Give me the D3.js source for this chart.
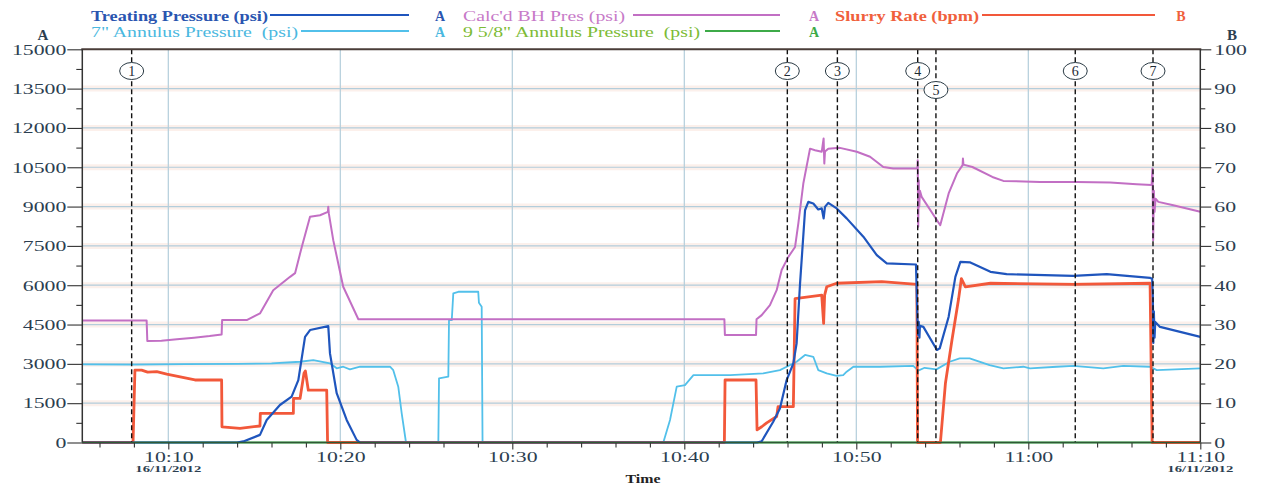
<!DOCTYPE html>
<html>
<head>
<meta charset="utf-8">
<script src="https://cdn.jsdelivr.net/npm/d3@7"></script>
<style>
  body { margin: 0; background: #fff; }
  svg { display: block; }
  text { font-family: "Liberation Serif", "Times New Roman", serif; }
</style>
</head>
<body>
<svg id="chart" width="1267" height="488"></svg>
<script>
// Treatment record, 16/11/2012. Each point is [minutes after 10:00, value].

// Treating Pressure (psi), axis A
const treatingPressure = [
  [5,0],[14,0],[14.36,40],[15.33,290],[15.72,860],[16.49,1430],[17.17,1750],[17.56,2380],
  [17.95,4030],[18.24,4290],[19.3,4440],[19.4,3400],[19.79,1880],[20.37,860],[20.95,100],[21.15,0],
  [44.23,0],[44.5,50],[45.17,790],[45.56,1300],[45.95,2380],[46.34,3020],[46.53,3780],[46.73,6070],
  [47.02,8860],[47.21,9180],[47.5,9120],[47.79,8890],[47.99,8930],[48.1,8550],[48.18,8990],[48.37,9140],
  [48.86,8930],[49.44,8550],[50.41,7850],[51.19,7150],[51.77,6830],[53.47,6790],[53.56,4540],[53.6,4100],
  [53.63,4600],[53.67,4000],[53.7,4450],[53.9,4410],[54.69,3530],[54.85,3590],[55.37,4800],[55.76,6320],
  [56.05,6890],[56.63,6870],[57.8,6510],[58.74,6420],[62.62,6360],[64.56,6420],[67.08,6280],[67.2,6250],
  [67.24,5560],[67.27,3800],[67.3,5000],[67.34,4000],[67.38,4600],[67.66,4410],[70,4030]
];

// Calc'd BH Pres (psi), axis A
const bhPressure = [
  [5,4650],[8.74,4650],[8.78,3870],[9.6,3880],[10.5,3940],[11.5,4000],[12.4,4060],[13.1,4120],
  [13.13,4670],[14.56,4670],[15.33,4925],[16.1,5810],[17.08,6320],[17.37,6460],[17.76,7460],[18.24,8610],
  [18.82,8670],[19.28,8800],[19.3,8990],[19.33,8750],[19.59,7720],[20.17,5940],[21.05,4700],[42.33,4700],
  [42.36,4100],[44.17,4100],[44.2,4700],[44.5,4860],[44.98,5240],[45.37,5810],[45.66,6580],[46.05,7080],
  [46.44,7460],[46.63,8360],[46.92,9880],[47.31,11210],[47.6,11150],[47.99,11090],[48.1,11600],[48.14,10640],
  [48.18,11100],[48.37,11210],[49.05,11240],[50.03,11090],[50.8,10900],[51.57,10510],[52.15,10450],[53.55,10450],
  [53.57,10770],[53.6,8230],[53.63,10000],[53.66,9000],[53.7,9600],[53.8,9370],[54.88,8290],[55.37,9500],
  [55.85,10260],[56.18,10580],[56.2,10830],[56.23,10600],[56.75,10510],[57.91,10130],[58.55,9980],[60.68,9940],
  [62.82,9940],[64.76,9920],[66.3,9850],[67.17,9820],[67.22,10450],[67.26,7720],[67.3,9600],[67.34,8800],
  [67.4,9300],[67.56,9180],[68.43,9050],[70,8800]
];

// Slurry Rate (bpm), axis B
const slurryRate = [
  [5,0],[7.95,0],[8.06,18.4],[8.45,18.4],[8.8,17.9],[9.33,18.0],[9.91,17.4],[11.55,15.9],[13.1,15.9],
  [13.12,4.0],[14.17,3.6],[15.33,4.2],[15.35,7.4],[17.27,7.4],[17.28,11.2],[17.66,11.2],[17.89,17.6],
  [17.97,18.2],[18.14,13.3],[19.21,13.3],[19.26,0],[42.33,0],[42.37,15.9],[44.17,15.9],[44.23,3.2],
  [44.5,4.0],[44.79,5.0],[45.37,6.6],[45.45,9.1],[46.34,9.1],[46.44,36.6],[47.99,37.5],[48.1,30.3],
  [48.16,37.5],[48.28,39.6],[48.86,40.5],[51.48,40.9],[53.52,40.2],[53.56,0],[54.89,0],[55.18,15.0],
  [55.56,26.0],[55.95,36.6],[56.11,41.7],[56.34,39.6],[57.8,40.5],[62.62,40.2],[67.08,40.5],[67.2,0],[70,0]
];

// 7" Annulus Pressure (psi), axis A
const annulus7 = [
  [5,2980],[8,2970],[11,2990],[14,3000],[16,3020],[17.66,3080],[18.43,3145],[19.4,3020],[19.79,2830],
  [20.17,2890],[20.56,2790],[21.15,2890],[22.89,2890],[23.08,2760],[23.37,2130],[23.57,1110],[23.82,0],
  [25.7,0],[25.74,2450],[26.28,2510],[26.32,4670],[26.48,4670],[26.57,5690],[26.86,5750],[28.02,5750],
  [28.06,5330],[28.22,5180],[28.27,0],[38.78,0],[39.17,860],[39.56,2130],[40.04,2190],[40.53,2570],
  [42.66,2570],[44.59,2640],[45.56,2760],[45.95,2890],[46.53,3080],[47.02,3340],[47.5,3270],[47.79,2760],
  [48.28,2640],[48.86,2540],[49.24,2570],[49.44,2700],[49.83,2890],[51.38,2890],[53.31,2920],[53.6,2740],
  [53.97,2850],[54.66,2790],[55.43,3080],[56.01,3210],[56.59,3210],[57.75,2950],[58.55,2830],[59.71,2890],
  [60.1,2830],[61.65,2890],[62.62,2920],[64.36,2830],[65.52,2920],[67.08,2890],[67.47,2760],[70,2830]
];

// 9 5/8" Annulus Pressure (psi), axis A
const annulus958 = [[5,0],[70,0]];

// Numbered events
const eventMinutes = [7.87, 45.99, 48.9, 53.57, 54.63, 62.73, 67.25];
const eventLabels  = ["1","2","3","4","5","6","7"];
const eventLow     = [false,false,false,false,true,false,false];

// Axis ticks
const psiTicks   = [0,1500,3000,4500,6000,7500,9000,10500,12000,13500,15000];
const bpmTicks   = [0,10,20,30,40,50,60,70,80,90,100];
const timeTicks  = [10,20,30,40,50,60,70];
const timeStart  = 5, timeEnd = 70;
const dateLabel  = "16/11/2012";

// ---------------------------------------------------------------
const svg = d3.select("#chart");
const L = 82.3, R = 1200.3, T = 49.3, B = 442.5;

const day = new Date(2012, 10, 16, 10, 0, 0);
const toDate = m => new Date(day.getTime() + m * 60000);

const x  = d3.scaleTime().domain([toDate(timeStart), toDate(timeEnd)]).range([L, R]);
const yA = d3.scaleLinear().domain([0, 15000]).range([B, T]);
const yB = d3.scaleLinear().domain([0, 100]).range([B, T]);

// widen text horizontally
function stretch(sel, k) {
  sel.each(function () {
    const w = this.getComputedTextLength();
    this.setAttribute("textLength", (w * k).toFixed(1));
    this.setAttribute("lengthAdjust", "spacingAndGlyphs");
  });
}
function fitWidth(sel, w) {
  sel.attr("textLength", w).attr("lengthAdjust", "spacingAndGlyphs");
}

// grid
const inner = psiTicks.filter(v => v > 0 && v < 15000);
const grid = svg.append("g");
grid.selectAll(".gh").data(inner).join("line")
  .attr("x1", L).attr("x2", R)
  .attr("y1", d => yA(d)).attr("y2", d => yA(d))
  .attr("stroke", "#fcf0eb").attr("stroke-width", 6);
grid.selectAll(".gh2").data(inner).join("line")
  .attr("x1", L).attr("x2", R)
  .attr("y1", d => yA(d)).attr("y2", d => yA(d))
  .attr("stroke", "#b3cddb").attr("stroke-width", 1.2);
grid.selectAll(".gv").data(timeTicks.filter(m => m > timeStart && m < timeEnd)).join("line")
  .attr("x1", d => x(toDate(d))).attr("x2", d => x(toDate(d)))
  .attr("y1", T).attr("y2", B)
  .attr("stroke", "#b3cddb").attr("stroke-width", 1.2);

// series
const lineA = d3.line().x(d => x(toDate(d[0]))).y(d => yA(d[1]));
const lineB = d3.line().x(d => x(toDate(d[0]))).y(d => yB(d[1]));

const series = [
  { data: annulus7,        gen: lineA, color: "#52c0ea", w: 1.8 },
  { data: annulus958,      gen: lineA, color: "#3daa48", w: 2 },
  { data: slurryRate,      gen: lineB, color: "#f2583a", w: 2.8 },
  { data: bhPressure,      gen: lineA, color: "#c26fc4", w: 2 },
  { data: treatingPressure,gen: lineA, color: "#1f55bd", w: 2.2 }
];
svg.append("g").selectAll("path").data(series).join("path")
  .attr("d", s => s.gen(s.data))
  .attr("fill", "none")
  .attr("stroke", s => s.color)
  .attr("stroke-width", s => s.w)
  .attr("stroke-linejoin", "round");

// event markers
const ev = svg.append("g").selectAll("g").data(eventMinutes).join("g");
ev.append("line")
  .attr("x1", d => x(toDate(d))).attr("x2", d => x(toDate(d)))
  .attr("y1", T).attr("y2", B)
  .attr("stroke", "#111").attr("stroke-width", 1.4).attr("stroke-dasharray", "5,3");
ev.append("ellipse")
  .attr("cx", d => x(toDate(d)))
  .attr("cy", (d, i) => eventLow[i] ? 90 : 71)
  .attr("rx", 12).attr("ry", 8.5)
  .attr("fill", "#fff").attr("stroke", "#2b3b45").attr("stroke-width", 1);
ev.append("text")
  .attr("x", d => x(toDate(d)))
  .attr("y", (d, i) => (eventLow[i] ? 90 : 71) + 4.8)
  .attr("text-anchor", "middle")
  .attr("font-size", 14).attr("fill", "#1e2a33")
  .text((d, i) => eventLabels[i]);

// axes
const tickColor = "#2c3e50";
const fmtPsi = d3.format("d");

const gl = svg.append("g").attr("transform", `translate(${L},0)`)
  .call(d3.axisLeft(yA).tickValues(psiTicks).tickSize(15).tickPadding(1).tickFormat(fmtPsi));
svg.append("g").attr("transform", `translate(${L},0)`)
  .call(d3.axisLeft(yA).tickValues(d3.range(750, 15000, 1500)).tickSize(6).tickFormat(""));

const gr = svg.append("g").attr("transform", `translate(${R},0)`)
  .call(d3.axisRight(yB).tickValues(bpmTicks).tickSize(11).tickPadding(3));
svg.append("g").attr("transform", `translate(${R},0)`)
  .call(d3.axisRight(yB).tickValues(d3.range(5, 100, 10)).tickSize(5).tickFormat(""));

const gb = svg.append("g").attr("transform", `translate(0,${B})`)
  .call(d3.axisBottom(x).tickValues(timeTicks.map(toDate)).tickSize(7).tickPadding(2)
    .tickFormat(d3.timeFormat("%H:%M")));
svg.append("g").attr("transform", `translate(0,${B})`)
  .call(d3.axisBottom(x)
    .tickValues(d3.range(6, 70, 2).filter(m => m % 10 !== 0).map(toDate))
    .tickSize(5).tickFormat(""));

svg.selectAll(".domain").remove();
svg.selectAll(".tick line").attr("stroke", "#333").attr("stroke-width", 1.1);
svg.selectAll(".tick text")
  .attr("font-family", "'Liberation Serif', serif")
  .attr("font-size", 15)
  .attr("fill", tickColor);
stretch(gl.selectAll(".tick text"), 1.45);
stretch(gr.selectAll(".tick text"), 1.45);
stretch(gb.selectAll(".tick text"), 1.45);

// frame
svg.append("line").attr("x1", L - 1).attr("x2", R + 1).attr("y1", T).attr("y2", T)
  .attr("stroke", "#4a3d38").attr("stroke-width", 2);
svg.append("line").attr("x1", L).attr("x2", L).attr("y1", T).attr("y2", B)
  .attr("stroke", "#333").attr("stroke-width", 1.5);
svg.append("line").attr("x1", R).attr("x2", R).attr("y1", T).attr("y2", B)
  .attr("stroke", "#333").attr("stroke-width", 1.5);
svg.append("line").attr("x1", L).attr("x2", R).attr("y1", B).attr("y2", B)
  .attr("stroke", "#2f5a36").attr("stroke-width", 1.6);

// date under first and last time labels
[10, 70].forEach(m => {
  svg.append("text").attr("x", x(toDate(m))).attr("y", 472)
    .attr("text-anchor", "middle").attr("font-size", 9).attr("font-weight", "bold")
    .attr("fill", "#2c3e50").text(dateLabel).call(fitWidth, 66);
});
svg.append("text").attr("x", 643).attr("y", 483).attr("text-anchor", "middle")
  .attr("font-size", 12).attr("font-weight", "bold").attr("fill", "#222")
  .text("Time").call(fitWidth, 35);

// axis letters
svg.append("text").attr("x", 43).attr("y", 40).attr("text-anchor", "middle")
  .attr("font-size", 15).attr("font-weight", "bold").attr("fill", "#2c3e50").text("A");
svg.append("text").attr("x", 1232).attr("y", 40).attr("text-anchor", "middle")
  .attr("font-size", 15).attr("font-weight", "bold").attr("fill", "#2c3e50").text("B");

// legend
const legend = [
  { label: "Treating Pressure (psi)",        tx: 91,  tw: 177, lx: [270, 409],  row: 0, axis: "A", ax: 440,  tc: "#2a55b0", lc: "#1f55bd", bold: true },
  { label: "Calc'd BH Pres (psi)",           tx: 463, tw: 162, lx: [633, 780],  row: 0, axis: "A", ax: 814,  tc: "#c77ac8", lc: "#c26fc4", bold: false },
  { label: "Slurry Rate (bpm)",              tx: 835, tw: 144, lx: [982, 1155], row: 0, axis: "B", ax: 1181, tc: "#f0603c", lc: "#f2583a", bold: true },
  { label: "7\" Annulus Pressure  (psi)",    tx: 91,  tw: 207, lx: [301, 409],  row: 1, axis: "A", ax: 440,  tc: "#4ab8e0", lc: "#52c0ea", bold: false },
  { label: "9 5/8\" Annulus Pressure  (psi)",tx: 463, tw: 237, lx: [705, 780],  row: 1, axis: "A", ax: 814,  tc: "#7cbb35", lc: "#3daa48", bold: false }
];
const rowBase = [21, 37];
const lg = svg.append("g").selectAll("g").data(legend).join("g");
lg.append("text")
  .attr("x", d => d.tx).attr("y", d => rowBase[d.row])
  .attr("font-size", 14).attr("font-weight", d => d.bold ? "bold" : "normal")
  .attr("fill", d => d.tc)
  .attr("xml:space", "preserve")
  .text(d => d.label)
  .each(function (d) { d3.select(this).call(fitWidth, d.tw); });
lg.append("line")
  .attr("x1", d => d.lx[0]).attr("x2", d => d.lx[1])
  .attr("y1", d => rowBase[d.row] - 6).attr("y2", d => rowBase[d.row] - 6)
  .attr("stroke", d => d.lc).attr("stroke-width", 2.2);
lg.append("text")
  .attr("x", d => d.ax).attr("y", d => rowBase[d.row])
  .attr("text-anchor", "middle").attr("font-size", 14).attr("font-weight", "bold")
  .attr("fill", d => d.row === 1 && d.axis === "A" && d.ax > 800 ? "#3daa48" : d.tc)
  .text(d => d.axis);
</script>
</body>
</html>
